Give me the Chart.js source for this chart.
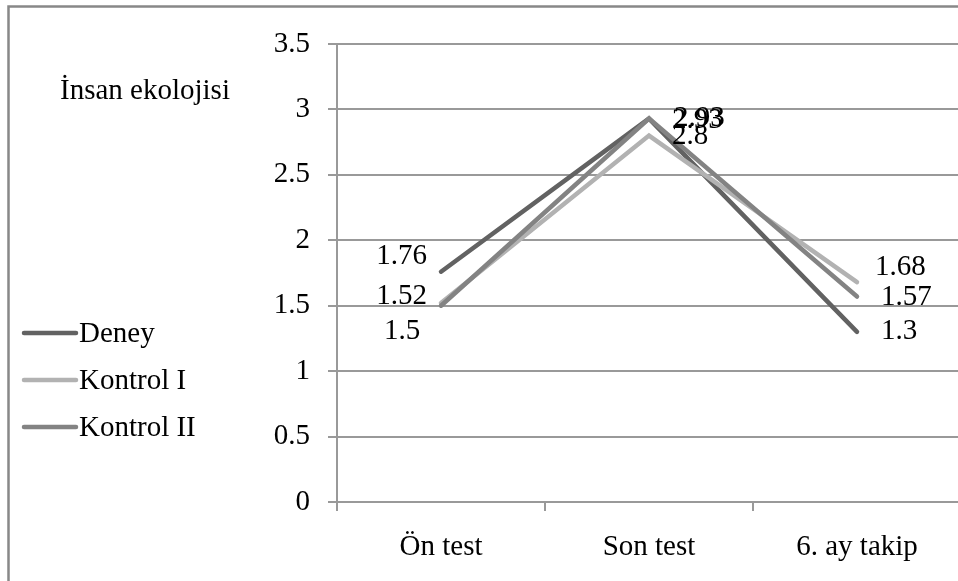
<!DOCTYPE html>
<html>
<head>
<meta charset="utf-8">
<script src="https://cdn.jsdelivr.net/npm/chart.js@4.4.1/dist/chart.umd.min.js"></script>
<style>
html,body{margin:0;padding:0;overflow:hidden;background:#fff;}
#wrap{position:absolute;left:0;top:0;width:966px;height:581px;}
</style>
</head>
<body>
<div id="wrap"><canvas id="c" width="966" height="581"></canvas></div>
<script>
const categories = ["Ön test", "Son test", "6. ay takip"];
const deney = [1.76, 2.93, 1.3];
const kontrol1 = [1.52, 2.8, 1.68];
const kontrol2 = [1.5, 2.93, 1.57];
const seriesNames = ["Deney", "Kontrol I", "Kontrol II"];
const yTicks = [0, 0.5, 1, 1.5, 2, 2.5, 3, 3.5];
const chartTitle = "İnsan ekolojisi";

const FONT = '"Liberation Serif", "Times New Roman", serif';
const FS = 29;
const colors = ["#626262", "#b2b2b2", "#838383"];

// label offsets (dx, dy, align) per dataset per point
const labelPos = [
  [[-14, -15, 'right'], [23, 2, 'left'], [24, 0, 'left']],
  [[-14, -7, 'right'], [23, 1, 'left'], [18, -15, 'left']],
  [[-39, 26, 'center'], [25, 0, 'left'], [24, 1, 'left']]
];

const decor = {
  id: 'decor',
  beforeDraw(chart) {
    const ctx = chart.ctx;
    ctx.save();
    ctx.fillStyle = '#fff';
    ctx.fillRect(0, 0, chart.width, chart.height);
    ctx.strokeStyle = '#888';
    ctx.lineWidth = 2.5;
    ctx.beginPath();
    ctx.moveTo(8.5, chart.height + 5);
    ctx.lineTo(8.5, 6.5);
    ctx.lineTo(chart.width + 5, 6.5);
    ctx.stroke();
    ctx.restore();
  },
  afterDraw(chart) {
    const ctx = chart.ctx;
    ctx.save();
    ctx.fillStyle = '#000';
    ctx.font = FS + 'px ' + FONT;
    ctx.textBaseline = 'middle';
    // title
    ctx.textAlign = 'left';
    ctx.fillText(chartTitle, 60, 91);
    // legend
    chart.data.datasets.forEach((ds, i) => {
      const y = 333 + i * 47;
      ctx.strokeStyle = ds.borderColor;
      ctx.lineWidth = 4.5;
      ctx.lineCap = 'round';
      ctx.beginPath();
      ctx.moveTo(24, y);
      ctx.lineTo(76, y);
      ctx.stroke();
      ctx.fillStyle = '#000';
      ctx.textAlign = 'left';
      ctx.fillText(ds.label, 79, y + 1);
    });
    // data labels
    chart.data.datasets.forEach((ds, i) => {
      const meta = chart.getDatasetMeta(i);
      meta.data.forEach((pt, j) => {
        const [dx, dy, al] = labelPos[i][j];
        ctx.textAlign = al;
        ctx.fillText(String(ds.data[j]), pt.x + dx, pt.y + dy);
      });
    });
    ctx.restore();
  }
};

const mk = (label, data, color, order) => ({
  label, data, borderColor: color, backgroundColor: color,
  borderWidth: 4.5, pointRadius: 0, pointHoverRadius: 0,
  borderCapStyle: 'round', borderJoinStyle: 'miter', tension: 0, order
});

new Chart(document.getElementById('c'), {
  type: 'line',
  data: {
    labels: categories,
    datasets: [
      mk(seriesNames[0], deney, colors[0], 3),
      mk(seriesNames[1], kontrol1, colors[1], 2),
      mk(seriesNames[2], kontrol2, colors[2], 1)
    ]
  },
  options: {
    responsive: false,
    animation: false,
    events: [],
    layout: { padding: { top: 44, right: 5, left: 0, bottom: 0 } },
    plugins: { legend: { display: false }, tooltip: { enabled: false }, title: { display: false } },
    scales: {
      x: {
        offset: true,
        grid: { offset: true, drawOnChartArea: false, drawTicks: true, tickLength: 9, color: '#999', lineWidth: 2 },
        border: { display: true, color: '#999', width: 2 },
        ticks: { font: { family: FONT, size: FS }, color: '#000', padding: 19, maxRotation: 0, autoSkip: false },
        afterFit(s) { s.height = 79; }
      },
      y: {
        min: 0, max: 3.5,
        afterBuildTicks(s) { s.ticks = yTicks.map(v => ({ value: v })); },
        grid: { drawOnChartArea: true, drawTicks: true, tickLength: 9, color: '#999', lineWidth: 2 },
        border: { display: true, color: '#999', width: 2 },
        ticks: { font: { family: FONT, size: FS }, color: '#000', padding: 18, callback: v => String(v) },
        afterFit(s) { s.width = 337; }
      }
    }
  },
  plugins: [decor]
});
</script>
</body>
</html>
